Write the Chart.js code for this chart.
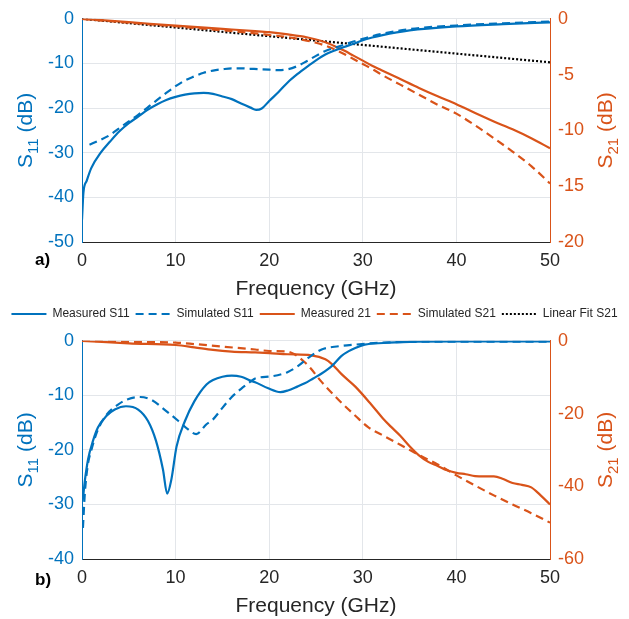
<!DOCTYPE html>
<html>
<head>
<meta charset="utf-8">
<script src="https://cdn.jsdelivr.net/npm/chart.js@4.4.1/dist/chart.umd.min.js"></script>
<style>
  html, body { margin: 0; padding: 0; background: #ffffff; }
  #wrap { position: relative; width: 629px; height: 619px; overflow: hidden; background: #fff; }
  canvas { position: absolute; left: 0; }
  #c1 { top: 0; }
  #c2 { top: 322px; }
</style>
</head>
<body>
<div id="wrap">
  <canvas id="c1" width="629" height="330"></canvas>
  <canvas id="c2" width="629" height="297"></canvas>
</div>
<script>
// ---------------- DATA ----------------
// Panel a)
const aMeasS11Freq = [0, 0.15, 0.5, 1, 2, 3, 4, 5, 6, 7, 8, 9, 10, 11, 12, 13, 14, 15, 16, 17, 18, 18.6, 19.2, 20, 21, 22, 23, 24, 25, 26, 27, 28, 29, 30, 31, 32, 35, 40, 45, 50];
const aMeasS11 = [-45, -39, -36.3, -33.4, -30, -27.5, -25.2, -23.4, -21.9, -20.4, -19.2, -18.2, -17.5, -17.0, -16.7, -16.6, -16.8, -17.4, -18.0, -19.0, -19.9, -20.4, -20.1, -18.4, -16.4, -14.2, -12.4, -10.8, -9.3, -8.0, -7.1, -6.3, -5.6, -4.8, -4.2, -3.7, -2.6, -1.7, -1.2, -0.8];

const aSimS11Freq = [0.8, 2, 3, 4, 5, 6, 7, 8, 9, 10, 11, 12, 13, 14, 15, 16, 17, 18, 19, 20, 21, 22, 23, 24, 25, 26, 27, 28, 29, 30, 31, 32, 35, 40, 45, 50];
const aSimS11 = [-28.2, -27.1, -26, -24.5, -23, -21.5, -19.9, -18.2, -16.6, -15.1, -13.8, -12.9, -12.1, -11.6, -11.3, -11.1, -11.1, -11.2, -11.3, -11.4, -11.5, -11.3, -10.6, -9.5, -8.3, -7.2, -6.5, -5.8, -5.1, -4.5, -3.9, -3.4, -2.3, -1.5, -1.0, -0.6];

const aS21Freq = [0, 5, 10, 15, 18.5, 20, 22, 24, 25, 26, 27, 28, 29, 30, 31, 32, 34, 36, 38, 40, 42, 44, 46, 48, 50];
const aMeasS21 = [0, -0.3, -0.62, -0.9, -1.1, -1.2, -1.4, -1.65, -1.85, -2.1, -2.45, -2.85, -3.3, -3.75, -4.2, -4.6, -5.4, -6.2, -6.95, -7.65, -8.45, -9.2, -9.9, -10.7, -11.6];
const aSimS21 = [0, -0.35, -0.67, -1.03, -1.3, -1.45, -1.65, -1.95, -2.15, -2.4, -2.75, -3.15, -3.6, -4.05, -4.5, -5.0, -5.9, -6.8, -7.7, -8.5, -9.55, -10.7, -11.9, -13.2, -14.75];

const aFitFreq = [0, 50];
const aFitS21 = [0, -3.9];

// Panel b)
const bMeasS11Freq = [0, 0.1, 0.28, 0.64, 1.18, 1.7, 2.6, 3.5, 4.7, 6.0, 7.05, 7.9, 8.65, 9.1, 9.55, 10.1, 11.0, 12.0, 13.3, 14, 15, 16, 17, 18, 18.5, 19.9, 21.2, 22, 23, 23.8, 24.7, 25.6, 26.7, 27.7, 28.5, 29.2, 30.2, 32.2, 35, 40, 45, 50];
const bMeasS11 = [-29.5, -28.9, -26, -21.8, -18.3, -15.9, -13.8, -12.6, -12.0, -12.6, -14.7, -18.3, -23.6, -28.0, -25.4, -19.4, -14.7, -11.1, -8.0, -7.2, -6.6, -6.4, -6.6, -7.3, -7.6, -8.7, -9.4, -9.1, -8.4, -7.8, -6.9, -6.0, -4.6, -2.8, -1.9, -1.3, -0.7, -0.4, -0.2, -0.12, -0.12, -0.12];

const bSimS11Freq = [0.1, 0.3, 0.6, 1.0, 1.7, 2.6, 3.85, 4.9, 6.2, 7.4, 8.8, 10.3, 11.3, 12.2, 13.3, 14, 15, 16, 17, 18, 18.5, 20.3, 22, 23.1, 24.2, 25.6, 27.4, 29.2, 32, 35, 40, 45, 50];
const bSimS11 = [-34.3, -28, -23, -20, -16.3, -13.6, -11.7, -10.7, -10.3, -10.8, -12.6, -14.7, -16.2, -17.1, -15.3, -14.4, -12.3, -10.3, -8.8, -7.5, -6.9, -6.5, -5.7, -4.6, -3.1, -1.6, -1.0, -0.7, -0.35, -0.2, -0.15, -0.15, -0.15];

const bMeasS21Freq = [0, 5, 10, 12, 14, 16, 18.5, 20, 22, 24.5, 26, 26.7, 27.7, 29.2, 30.9, 32.2, 33, 34, 35, 36, 37, 38, 39, 40, 41, 42, 43, 44, 45, 46, 47, 48, 49, 50];
const bMeasS21 = [0, -0.7, -1.16, -1.8, -2.5, -2.95, -3.2, -3.4, -3.7, -4.0, -5.1, -6.4, -9.1, -12.6, -17.5, -21.5, -23.6, -26.1, -29.0, -31.5, -33.3, -34.4, -35.6, -36.3, -36.7, -37.2, -37.3, -37.3, -38.0, -39.1, -39.6, -40.3, -42.5, -45.0];

const bSimS21Freq = [0, 5, 10, 12, 15, 18.5, 20, 22, 22.7, 23.8, 24.4, 25.6, 27.4, 29.2, 30.6, 32, 34, 36, 38, 40, 42, 44, 46, 48, 50];
const bSimS21 = [0, -0.27, -0.5, -0.9, -1.6, -2.4, -2.8, -3.0, -3.7, -5.9, -7.5, -11.3, -16.2, -20.6, -23.8, -25.8, -28.6, -31.4, -34.0, -37.0, -39.8, -42.5, -45.0, -47.4, -50.0];

// Tick settings
const xTicks = [0, 10, 20, 30, 40, 50];
const legendNames = ['Measured S11', 'Simulated S11', 'Measured 21', 'Simulated S21', 'Linear Fit S21'];

// ---------------- STYLE ----------------
const BLUE = '#0072BD';
const ORANGE = '#D95319';
const DARK = '#262626';
const GRID = '#e3e6ea';
const FAMILY = "'Liberation Sans', Arial, Helvetica, sans-serif";

function pts(fs, vs) { return fs.map((f, i) => ({ x: f, y: vs[i] })); }

function lineDS(label, fs, vs, color, dash, axis) {
  return {
    label: label,
    data: pts(fs, vs),
    borderColor: color,
    backgroundColor: color,
    borderWidth: 2.2,
    borderDash: dash,
    pointRadius: 0,
    tension: 0.4,
    cubicInterpolationMode: 'monotone',
    yAxisID: axis,
    fill: false
  };
}

function drawRotTitle(ctx, x, cy, sub, color) {
  ctx.save();
  ctx.translate(x, cy);
  ctx.rotate(-Math.PI / 2);
  ctx.fillStyle = color;
  ctx.textBaseline = 'alphabetic';
  ctx.textAlign = 'left';
  const big = '21px ' + FAMILY, small = '15px ' + FAMILY;
  ctx.font = big;
  const wS = ctx.measureText('S').width;
  const wR = ctx.measureText(' (dB)').width;
  ctx.font = small;
  const wSub = ctx.measureText(sub).width;
  const sx = -(wS + wSub + wR) / 2;
  ctx.font = big; ctx.fillText('S', sx, 0);
  ctx.font = small; ctx.fillText(sub, sx + wS, 6);
  ctx.font = big; ctx.fillText(' (dB)', sx + wS + wSub, 0);
  ctx.restore();
}

const titlesPlugin = {
  id: 'axisTitles',
  afterDraw(chart, args, opts) {
    const { ctx, chartArea } = chart;
    const cy = (chartArea.top + chartArea.bottom) / 2;
    drawRotTitle(ctx, 32, cy, '11', BLUE);
    drawRotTitle(ctx, 612, cy, '21', ORANGE);
    ctx.save();
    ctx.font = 'bold 17px ' + FAMILY;
    ctx.fillStyle = '#000';
    ctx.textBaseline = 'middle';
    ctx.textAlign = 'left';
    ctx.fillText(opts.panel, 35, chartArea.bottom + opts.panelDy);
    ctx.restore();
  }
};

function makeScales(yLmin, yLstep, yRmin, yRstep) {
  return {
    x: {
      type: 'linear', min: 0, max: 50,
      afterBuildTicks: (s) => { s.ticks = xTicks.map(v => ({ value: v })); },
      afterFit: (s) => { s.height = 60; },
      grid: { color: GRID, lineWidth: 1, drawTicks: false },
      border: { color: DARK, width: 1 },
      ticks: { color: DARK, font: { family: FAMILY, size: 18 }, padding: 8, maxRotation: 0 },
      title: { display: true, text: 'Frequency (GHz)', color: DARK, font: { family: FAMILY, size: 21 }, padding: 0 }
    },
    yL: {
      type: 'linear', position: 'left', min: yLmin, max: 0,
      afterFit: (s) => { s.width = 82; },
      grid: { color: GRID, lineWidth: 1, drawTicks: false },
      border: { color: BLUE, width: 1 },
      ticks: { stepSize: yLstep, color: BLUE, font: { family: FAMILY, size: 18 }, padding: 8 }
    },
    yR: {
      type: 'linear', position: 'right', min: yRmin, max: 0,
      afterFit: (s) => { s.width = 79; },
      grid: { drawOnChartArea: false, drawTicks: false },
      border: { color: ORANGE, width: 1 },
      ticks: { stepSize: yRstep, color: ORANGE, font: { family: FAMILY, size: 18 }, padding: 8 }
    }
  };
}

function legendLabels(chart) {
  const items = Chart.defaults.plugins.legend.labels.generateLabels(chart);
  items.forEach(it => {
    const ds = chart.data.datasets[it.datasetIndex];
    it.lineDash = ds.borderDash;
    it.lineWidth = 2;
    it.strokeStyle = ds.borderColor;
    it.fillStyle = ds.borderColor;
    it.pointStyle = 'line';
  });
  return items;
}

// ---------------- CHART A ----------------
new Chart(document.getElementById('c1'), {
  type: 'line',
  data: {
    datasets: [
      lineDS(legendNames[0], aMeasS11Freq, aMeasS11, BLUE, [], 'yL'),
      lineDS(legendNames[1], aSimS11Freq, aSimS11, BLUE, [8, 5], 'yL'),
      lineDS(legendNames[2], aS21Freq, aMeasS21, ORANGE, [], 'yR'),
      lineDS(legendNames[3], aS21Freq, aSimS21, ORANGE, [8, 5], 'yR'),
      Object.assign(lineDS(legendNames[4], aFitFreq, aFitS21, '#000000', [2, 2], 'yR'), { tension: 0, cubicInterpolationMode: 'default' })
    ]
  },
  options: {
    responsive: false,
    animation: false,
    devicePixelRatio: 1,
    layout: { padding: { top: 16, left: 0, right: 0, bottom: 0 } },
    scales: makeScales(-50, 10, -20, 5),
    plugins: {
      legend: {
        display: true,
        position: 'bottom',
        labels: {
          usePointStyle: true,
          pointStyle: 'line',
          pointStyleWidth: 35,
          boxHeight: 12,
          padding: 6,
          color: DARK,
          font: { family: FAMILY, size: 12 },
          generateLabels: legendLabels
        }
      },
      tooltip: { enabled: false },
      axisTitles: { panel: 'a)', panelDy: 18 }
    }
  },
  plugins: [titlesPlugin]
});

// ---------------- CHART B ----------------
new Chart(document.getElementById('c2'), {
  type: 'line',
  data: {
    datasets: [
      lineDS(legendNames[0], bMeasS11Freq, bMeasS11, BLUE, [], 'yL'),
      lineDS(legendNames[1], bSimS11Freq, bSimS11, BLUE, [8, 5], 'yL'),
      lineDS(legendNames[2], bMeasS21Freq, bMeasS21, ORANGE, [], 'yR'),
      lineDS(legendNames[3], bSimS21Freq, bSimS21, ORANGE, [8, 5], 'yR')
    ]
  },
  options: {
    responsive: false,
    animation: false,
    devicePixelRatio: 1,
    layout: { padding: { top: 12, left: 0, right: 0, bottom: 0 } },
    scales: makeScales(-40, 10, -60, 20),
    plugins: {
      legend: { display: false },
      tooltip: { enabled: false },
      axisTitles: { panel: 'b)', panelDy: 21 }
    }
  },
  plugins: [titlesPlugin]
});
</script>
</body>
</html>
